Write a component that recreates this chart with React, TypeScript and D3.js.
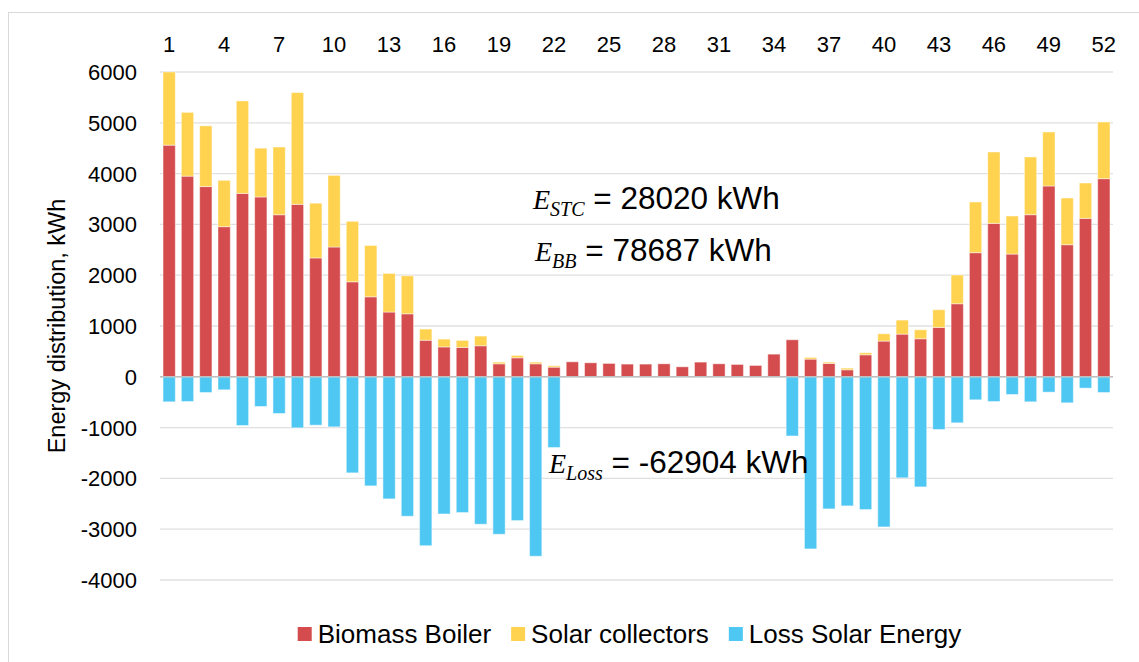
import { useEffect, useRef } from 'react';
import * as d3 from 'd3';

// weekly energy balance, kWh
const weeks = d3.range(1, 53);
const biomassBoiler = [
	4560, 3950, 3745, 2955, 3610, 3540, 3190, 3395, 2340, 2555, 1870, 1575, 1275,
	1240, 720, 588, 578, 611, 256, 374, 256, 190, 295, 276, 263, 250, 250, 256,
	197, 289, 256, 243, 223, 446, 729, 348, 263, 138, 433, 703, 840, 749, 972,
	1438, 2443, 3020, 2416, 3191, 3756, 2600, 3119, 3900,
];
const solarCollectors = [
	1440, 1255, 1195, 912, 1820, 960, 1333, 2200, 1077, 1410, 1190, 1010, 760,
	748, 219, 154, 138, 190, 33, 46, 33, 27, 0, 0, 0, 0, 0, 0, 0, 0, 0, 0, 0, 0,
	0, 33, 26, 33, 40, 144, 276, 177, 348, 565, 998, 1405, 749, 1136, 1063, 919,
	696, 1116,
];
const lossSolar = [
	-492, -486, -309, -256, -959, -584, -722, -1005, -952, -985, -1891, -2147,
	-2403, -2745, -3325, -2700, -2672, -2902, -3099, -2830, -3532, -1392, 0, 0, 0,
	0, 0, 0, 0, 0, 0, 0, 0, 0, -1165, -3388, -2600, -2541, -2613, -2955, -1989,
	-2167, -1037, -906, -453, -486, -348, -492, -302, -512, -223, -309,
];
const yTicks = [-4000, -3000, -2000, -1000, 0, 1000, 2000, 3000, 4000, 5000, 6000];
const weekLabels = weeks.filter((w) => (w - 1) % 3 === 0);

const legendItems = [
	{ name: 'Biomass Boiler', color: '#d44c4d' },
	{ name: 'Solar collectors', color: '#ffd24f' },
	{ name: 'Loss Solar Energy', color: '#4fc7f3' },
];

const annotations = [
	{ sub: 'STC', text: ' = 28020 kWh', x: 533, y: 209 },
	{ sub: 'BB', text: ' = 78687 kWh', x: 535, y: 261 },
	{ sub: 'Loss', text: ' = -62904 kWh', x: 549, y: 473 },
];

const SANS = '"Liberation Sans", Arial, sans-serif';
const SERIF = '"Liberation Serif", "Times New Roman", serif';

const App = () => {
	const ref = useRef<SVGSVGElement>(null);

	useEffect(() => {
		const width = 1139,
			height = 662;
		const margin = { left: 160, right: 26, top: 72, bottom: 82 };

		const svg = d3.select(ref.current).attr('width', width).attr('height', height);
		svg.selectAll('*').remove();

		svg
			.append('rect')
			.attr('x', 8.5)
			.attr('y', 12.5)
			.attr('width', 1200)
			.attr('height', 700)
			.attr('fill', 'white')
			.attr('stroke', '#d9d9d9');

		const x = d3
			.scaleBand<number>()
			.domain(weeks)
			.range([margin.left, width - margin.right])
			.paddingInner(0.33)
			.paddingOuter(0.165);
		const y = d3
			.scaleLinear()
			.domain([-4000, 6000])
			.range([height - margin.bottom, margin.top]);

		// gridlines
		svg
			.append('g')
			.selectAll('line')
			.data(yTicks)
			.join('line')
			.attr('x1', margin.left)
			.attr('x2', width - margin.right)
			.attr('y1', (d) => y(d))
			.attr('y2', (d) => y(d))
			.attr('stroke', '#e0e0e0')
			.attr('stroke-width', 1.3);

		// y labels
		svg
			.append('g')
			.selectAll('text')
			.data(yTicks)
			.join('text')
			.attr('x', 137)
			.attr('y', (d) => y(d))
			.attr('dy', '0.36em')
			.attr('text-anchor', 'end')
			.attr('font-family', SANS)
			.attr('font-size', 22)
			.attr('fill', '#000')
			.text((d) => d);

		// top week labels
		svg
			.append('g')
			.selectAll('text')
			.data(weekLabels)
			.join('text')
			.attr('x', (d) => (x(d) as number) + x.bandwidth() / 2)
			.attr('y', 52)
			.attr('text-anchor', 'middle')
			.attr('font-family', SANS)
			.attr('font-size', 22)
			.attr('fill', '#000')
			.text((d) => d);

		svg
			.append('text')
			.attr('transform', `translate(57, ${(y(6000) + y(-4000)) / 2}) rotate(-90)`)
			.attr('text-anchor', 'middle')
			.attr('dy', '0.35em')
			.attr('font-family', SANS)
			.attr('font-size', 23.5)
			.text('Energy distribution, kWh');

		const bars = svg.append('g');
		const addBars = (vals: number[], base: number[] | null, color: string) => {
			bars
				.append('g')
				.selectAll('rect')
				.data(vals.map((v, i) => ({ week: weeks[i], v, b: base ? base[i] : 0 })))
				.join('rect')
				.attr('x', (d) => x(d.week) as number)
				.attr('width', x.bandwidth())
				.attr('y', (d) => Math.min(y(d.b), y(d.b + d.v)))
				.attr('height', (d) => Math.abs(y(d.b) - y(d.b + d.v)))
				.attr('fill', color)
				.attr('stroke', 'rgba(255,255,255,0.45)')
				.attr('stroke-width', 1);
		};
		addBars(biomassBoiler, null, legendItems[0].color);
		addBars(solarCollectors, biomassBoiler, legendItems[1].color);
		addBars(lossSolar, null, legendItems[2].color);

		// zero axis
		svg
			.append('line')
			.attr('x1', margin.left)
			.attr('x2', width - margin.right)
			.attr('y1', y(0))
			.attr('y2', y(0))
			.attr('stroke', '#bfbfbf')
			.attr('stroke-width', 1.5);

		// annotations
		annotations.forEach((a) => {
			const t = svg
				.append('text')
				.attr('x', a.x)
				.attr('y', a.y)
				.attr('fill', '#000');
			t.append('tspan')
				.attr('font-family', SERIF)
				.attr('font-style', 'italic')
				.attr('font-size', 28)
				.text('E');
			t.append('tspan')
				.attr('font-family', SERIF)
				.attr('font-style', 'italic')
				.attr('font-size', 20)
				.attr('dy', 7)
				.text(a.sub);
			t.append('tspan')
				.attr('font-family', SANS)
				.attr('font-size', 31.5)
				.attr('dy', -7)
				.text(a.text);
		});

		// legend
		const lg = svg.append('g');
		let cx = 0;
		legendItems.forEach((it) => {
			lg.append('rect')
				.attr('x', cx)
				.attr('y', -7)
				.attr('width', 14)
				.attr('height', 14)
				.attr('fill', it.color);
			const t = lg
				.append('text')
				.attr('x', cx + 20)
				.attr('y', 0)
				.attr('dy', '0.36em')
				.attr('font-family', SANS)
				.attr('font-size', 26)
				.text(it.name);
			const w = (t.node() as SVGTextElement).getComputedTextLength();
			cx += 20 + w + 20;
		});
		const total = cx - 20;
		lg.attr('transform', `translate(${629.5 - total / 2}, 634)`);
	}, []);

	return <svg ref={ref} style={{ position: 'absolute', left: 0, top: 0 }} />;
};

export default App;
